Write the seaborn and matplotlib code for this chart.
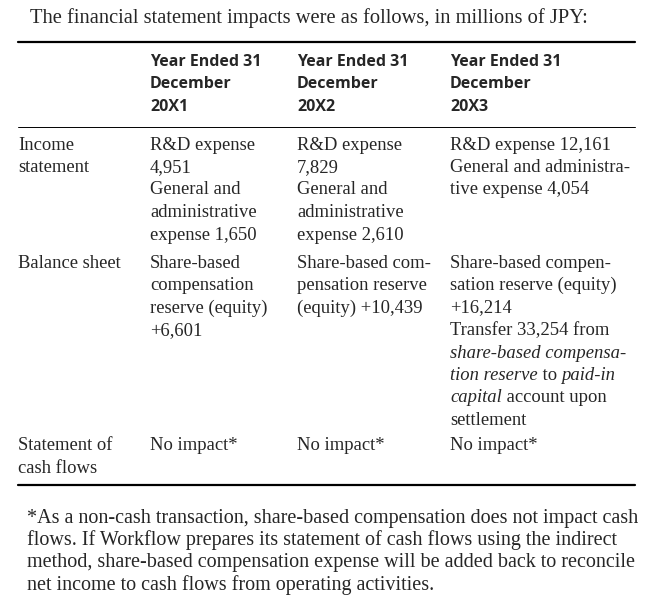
import matplotlib
matplotlib.use("Agg")
import matplotlib.pyplot as plt
import seaborn as sns

sns.set_theme(style="white")
plt.rcParams["font.family"] = ["Liberation Serif", "DejaVu Serif"]

title = "The financial statement impacts were as follows, in millions of JPY:"
headers = [["Year Ended 31", "December", "20X1"],
           ["Year Ended 31", "December", "20X2"],
           ["Year Ended 31", "December", "20X3"]]
row_labels = [["Income", "statement"], ["Balance sheet"], ["Statement of", "cash flows"]]
# each cell: list of lines, each line a list of (text, italic) segments
cells = [
    [
        [[("R&D expense", 0)], [("4,951", 0)], [("General and", 0)],
         [("administrative", 0)], [("expense 1,650", 0)]],
        [[("R&D expense", 0)], [("7,829", 0)], [("General and", 0)],
         [("administrative", 0)], [("expense 2,610", 0)]],
        [[("R&D expense 12,161", 0)], [("General and administra-", 0)],
         [("tive expense 4,054", 0)]],
    ],
    [
        [[("Share-based", 0)], [("compensation", 0)], [("reserve (equity)", 0)],
         [("+6,601", 0)]],
        [[("Share-based com-", 0)], [("pensation reserve", 0)],
         [("(equity) +10,439", 0)]],
        [[("Share-based compen-", 0)], [("sation reserve (equity)", 0)],
         [("+16,214", 0)], [("Transfer 33,254 from", 0)],
         [("share-based compensa-", 1)], [("tion reserve", 1), (" to ", 0), ("paid-in", 1)],
         [("capital", 1), (" account upon", 0)], [("settlement", 0)]],
    ],
    [
        [[("No impact*", 0)]], [[("No impact*", 0)]], [[("No impact*", 0)]],
    ],
]
footnote = ["*As a non-cash transaction, share-based compensation does not impact cash",
            "flows. If Workflow prepares its statement of cash flows using the indirect",
            "method, share-based compensation expense will be added back to reconcile",
            "net income to cash flows from operating activities."]

W, H = 662, 600
fig = plt.figure(figsize=(W / 100, H / 100), dpi=100)
ax = fig.add_axes([0, 0, 1, 1])
ax.set_xlim(0, W)
ax.set_ylim(H, 0)
ax.axis("off")

fs = 13.4
lh = 22.5
col_x = [150, 297, 450]
row_y = [145, 263, 446]

ax.text(30, 18, title, fontsize=14.8, va="center")
ax.plot([18, 635], [42, 42], color="black", lw=1.6)
ax.plot([18, 635], [127, 127], color="black", lw=0.7)
ax.plot([18, 635], [485, 485], color="black", lw=1.6)

for x, hdr in zip(col_x, headers):
    for i, line in enumerate(hdr):
        ax.text(x, 62 + i * lh, line, fontsize=11.5, fontweight="bold",
                family=["Open Sans", "DejaVu Sans"], va="center")

fig.canvas.draw()
renderer = fig.canvas.get_renderer()

for r, y0 in enumerate(row_y):
    for i, line in enumerate(row_labels[r]):
        ax.text(18, y0 + i * lh, line, fontsize=fs, va="center")
    for c, x in enumerate(col_x):
        for i, segs in enumerate(cells[r][c]):
            xx = x
            for txt, it in segs:
                t = ax.text(xx, y0 + i * lh, txt, fontsize=fs, va="center",
                            style="italic" if it else "normal")
                bb = t.get_window_extent(renderer)
                xx += bb.width

for i, line in enumerate(footnote):
    ax.text(27, 518 + i * lh, line, fontsize=14.5, va="center")

fig.savefig("out.png", dpi=100)
